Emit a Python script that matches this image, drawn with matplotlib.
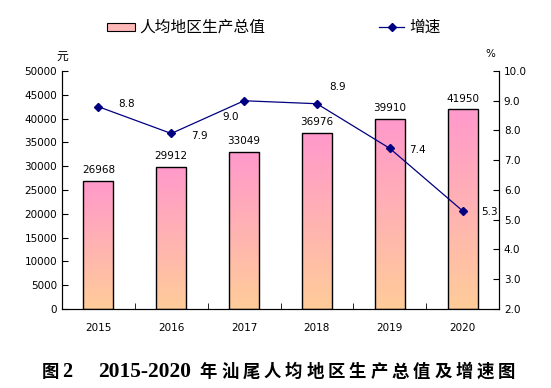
import numpy as np
import matplotlib
matplotlib.use("Agg")
import matplotlib.pyplot as plt
from matplotlib.colors import LinearSegmentedColormap
from matplotlib.patches import Rectangle
from matplotlib.lines import Line2D

plt.rcParams['font.family'] = ['Noto Sans CJK SC', 'DejaVu Sans']

years = ["2015", "2016", "2017", "2018", "2019", "2020"]
gdp_per_capita = [26968, 29912, 33049, 36976, 39910, 41950]
growth = [8.8, 7.9, 9.0, 8.9, 7.4, 5.3]

W, H = 551, 388
fig = plt.figure(figsize=(W / 100, H / 100), dpi=100)
ax = fig.add_axes([62 / W, 1 - 309 / H, 437 / W, 238 / H])
ax2 = ax.twinx()


def fx(px):
    return px / W


def fy(py):
    return 1 - py / H


x = np.arange(len(years))
width = 0.41
cmap = LinearSegmentedColormap.from_list("pk", ["#FFCC99", "#FF99CC"])
grad = np.linspace(0, 1, 256).reshape(-1, 1)

bars = ax.bar(x, gdp_per_capita, width, facecolor="none", edgecolor="black", linewidth=1.0, zorder=3)
for b in bars:
    bx, by = b.get_x(), b.get_y()
    im = ax.imshow(grad, cmap=cmap, origin="lower", aspect="auto",
                   extent=[bx, bx + b.get_width(), by, by + b.get_height()], zorder=2)
    im.set_clip_path(b)

for xi, v in zip(x, gdp_per_capita):
    ax.text(xi, v + 1200, str(v), ha="center", va="bottom", fontsize=7.5, family="DejaVu Sans")

ax.set_xlim(-0.5, 5.5)
ax.set_ylim(0, 50000)
ax.set_yticks(np.arange(0, 50001, 5000))
ax.set_xticks(x)
ax.set_xticklabels(years, fontsize=7.5, family="DejaVu Sans")
ax.set_xticks(np.arange(0.5, 5.5, 1), minor=True)
ax.tick_params(axis="x", which="major", length=0, pad=10)
ax.tick_params(axis="x", which="minor", direction="in", length=4)
ax.tick_params(axis="y", direction="in", length=4, labelsize=7.5)
for lab in ax.get_yticklabels():
    lab.set_family("DejaVu Sans")
ax.spines["top"].set_visible(False)

ax2.plot(x, growth, color="#000080", linewidth=0.9, marker="D", markersize=4, zorder=5)
ax2.set_ylim(2.0, 10.0)
ax2.set_yticks(np.arange(2, 10.1, 1))
ax2.set_yticklabels([f"{v:.1f}" for v in np.arange(2, 10.1, 1)], fontsize=7.5, family="DejaVu Sans")
ax2.tick_params(axis="y", direction="in", length=4)
ax2.spines["top"].set_visible(False)

offsets = [(0.27, 0.1), (0.27, -0.1), (-0.3, -0.55), (0.17, 0.55), (0.27, -0.05), (0.26, -0.05)]
for xi, g, (dx, dy) in zip(x, growth, offsets):
    ax2.text(xi + dx, g + dy, f"{g:.1f}", ha="left", va="center",
             fontsize=7.5, family="DejaVu Sans")

ax.set_zorder(1)
ax2.set_zorder(2)
ax2.patch.set_visible(False)

# axis unit labels
fig.text(fx(62), fy(56), "元", fontsize=8.5, ha="center", va="center")
fig.text(fx(490), fy(54), "%", fontsize=7.5, ha="center", va="center", family="DejaVu Sans")

# legend drawn by hand
fig.patches.append(Rectangle((fx(107), fy(31)), fx(28), 8 / H, transform=fig.transFigure,
                             facecolor="#FFB8B8", edgecolor="black", linewidth=0.8))
fig.text(fx(139), fy(27), "人均地区生产总值", fontsize=11.3, ha="left", va="center")
fig.lines.append(Line2D([fx(379), fx(404)], [fy(27), fy(27)], transform=fig.transFigure,
                        color="#000080", linewidth=0.9))
fig.lines.append(Line2D([fx(391.5)], [fy(27)], transform=fig.transFigure,
                        color="#000080", marker="D", markersize=4))
fig.text(fx(409), fy(27), "增速", fontsize=11.3, ha="left", va="center")

# caption, characters spread out like the original
cap_y = fy(372)
fig.text(fx(50), cap_y, "图", fontsize=12.5, fontweight="bold", ha="center", va="center")
fig.text(fx(67), cap_y, "2", fontsize=14.5, fontweight="bold", ha="center", va="center",
         family="Liberation Serif")
fig.text(fx(145), cap_y, "2015-2020", fontsize=15.5, fontweight="bold", ha="center", va="center",
         family="Liberation Serif")
cap_chars = "年汕尾人均地区生产总值及增速图"
for i, ch in enumerate(cap_chars):
    fig.text(fx(208.5 + i * 21.3), cap_y, ch, fontsize=12.5, fontweight="bold",
             ha="center", va="center")

fig.savefig("out.png", dpi=100)
